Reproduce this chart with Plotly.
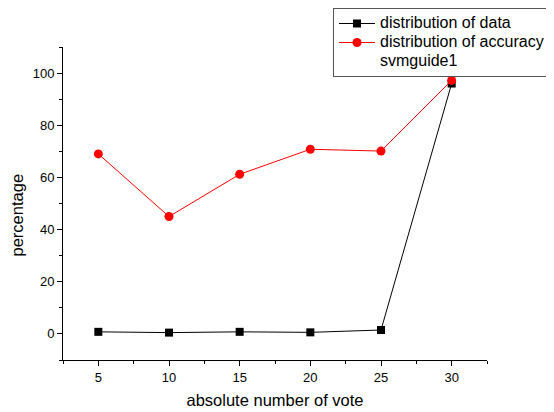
import plotly.graph_objects as go

votes = [5, 10, 15, 20, 25, 30]
data_pct = [0.8, 0.5, 0.8, 0.6, 1.5, 96.0]
acc_pct = [69.0, 45.0, 61.2, 70.8, 70.1, 97.2]
legend_names = ["distribution of data", "distribution of accuracy", "svmguide1"]

FONT = "Liberation Sans, Arial, sans-serif"


def big(t):
    return '<span style="font-size:16px">' + t + '</span>'


fig = go.Figure()
fig.add_trace(go.Scatter(x=votes, y=data_pct, mode="lines+markers", name=big(legend_names[0]),
                         line=dict(color="black", width=1),
                         marker=dict(symbol="square", size=8, color="black")))
fig.add_trace(go.Scatter(x=votes, y=acc_pct, mode="lines+markers", name=big(legend_names[1]),
                         line=dict(color="red", width=1),
                         marker=dict(symbol="circle", size=9, color="red")))
fig.add_trace(go.Scatter(x=[None], y=[None], mode="lines", name=big(legend_names[2]),
                         line=dict(color="rgba(0,0,0,0)", width=0), hoverinfo="skip"))

# page body has an 8px default margin: plot area spans screen x 63..487, y 47..360
fig.update_layout(
    width=554, height=412,
    margin=dict(l=55, r=75, t=39, b=60, autoexpand=False),
    paper_bgcolor="white", plot_bgcolor="white",
    font=dict(family=FONT, size=13, color="black"),
    showlegend=True,
    legend=dict(x=(325 - 55) / 424, y=352 / 313, xanchor="left", yanchor="top",
                bgcolor="white", bordercolor="#555555", borderwidth=1,
                font=dict(family=FONT, size=12, color="black"),
                tracegroupgap=0, itemwidth=36),
    xaxis=dict(range=[2.5, 32.5], tickvals=votes, showgrid=False, zeroline=False,
               showline=True, linecolor="black", linewidth=1,
               ticks="outside", ticklen=5, tickcolor="black",
               minor=dict(tickvals=[2.5, 7.5, 12.5, 17.5, 22.5, 27.5, 32.5], ticks="outside", ticklen=3, tickcolor="black"),
               title=dict(text="absolute number of vote", font=dict(size=16.5), standoff=10),
               tickfont=dict(size=13)),
    yaxis=dict(range=[-10, 110], tickvals=[0, 20, 40, 60, 80, 100], showgrid=False, zeroline=False,
               showline=True, linecolor="black", linewidth=1,
               ticks="outside", ticklen=5, tickcolor="black",
               minor=dict(tickvals=[-10, 10, 30, 50, 70, 90, 110], ticks="outside", ticklen=3, tickcolor="black"),
               tickfont=dict(size=13)),
    annotations=[dict(text="percentage", textangle=-90, xref="paper", yref="paper",
                      x=(8.5 - 55) / 424, y=(352 - 207) / 313, xanchor="center", yanchor="middle",
                      showarrow=False, font=dict(size=16.5, family=FONT, color="black"))],
)

fig.write_html("out.html")
